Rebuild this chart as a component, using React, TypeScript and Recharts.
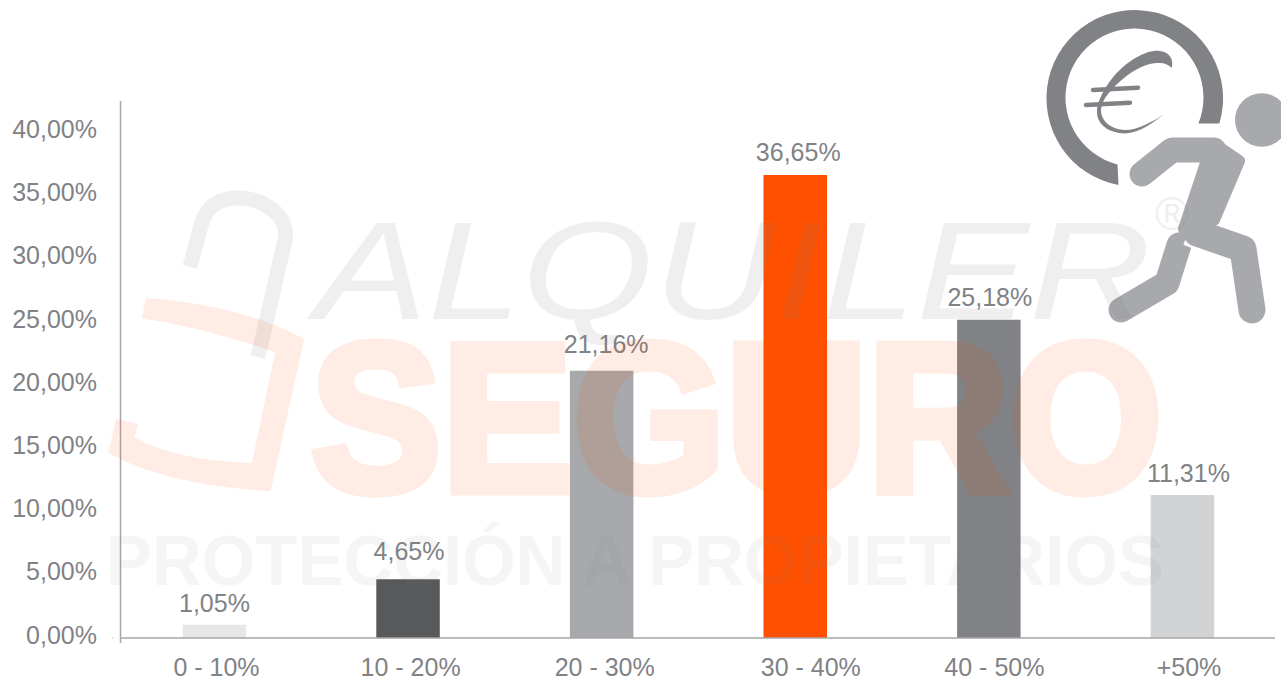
import { Bar, BarChart, Cell, LabelList, XAxis, YAxis } from "recharts";

const categories = ["0 - 10%", "10 - 20%", "20 - 30%", "30 - 40%", "40 - 50%", "+50%"];
const shares = [1.05, 4.65, 21.16, 36.65, 25.18, 11.31];
const barColors = ["#e6e7e8", "#58595b", "#a7a9ac", "#ff5000", "#808285", "#d1d3d4"];
const yTicks = [0, 5, 10, 15, 20, 25, 30, 35, 40];

const data = categories.map((range, i) => ({ range, share: shares[i] }));

const FONT = '"Liberation Sans", Arial, sans-serif';
const TEXT = "#808285";
const AXIS = "#a6a6a6";

// the labels were placed by hand in the original, so they are not quite centred
const tickNudgeX = [2, 2.5, 3, 15.5, 5.5, 6.5];
const labelNudgeX = [0, 1, 4.5, 3, 1, 6];
const labelLift = [13, 19, 18, 14, 14, 13];

function formatPercent(v: number) {
  return `${v.toFixed(2).replace(".", ",")}%`;
}

function YTick({ x, y, payload }: any) {
  return (
    <g>
      {payload.value === 0 && (
        <>
          <line x1={113} x2={x} y1={y} y2={y} stroke={AXIS} strokeWidth={1.5} />
          <line x1={120.5} x2={120.5} y1={y} y2={y + 5} stroke={AXIS} strokeWidth={1.5} />
        </>
      )}
      <text x={97} y={y + 5.5} textAnchor="end" fontSize={25} fontFamily={FONT} fill={TEXT}>
        {formatPercent(payload.value)}
      </text>
    </g>
  );
}

function XTick({ x, payload, index }: any) {
  return (
    <text x={x + tickNudgeX[index]} y={676} textAnchor="middle" fontSize={25} fontFamily={FONT} fill={TEXT}>
      {payload.value}
    </text>
  );
}

function BarLabel({ x, y, width, value, index }: any) {
  return (
    <text
      x={x + width / 2 + labelNudgeX[index]}
      y={y - labelLift[index]}
      textAnchor="middle"
      fontSize={25}
      fontFamily={FONT}
      fill={TEXT}
    >
      {formatPercent(value)}
    </text>
  );
}

function RunnerIcon() {
  return (
    <svg
      width={1281}
      height={677}
      style={{ position: "absolute", left: 0, top: 0, pointerEvents: "none" }}
    >
      <path
        d="M1219.4 123.5 A88.3 88.3 0 1 0 1118.5 185.1 L1117.5 164.4 A69 69 0 1 1 1198.4 123.5 Z"
        fill="#808285"
      />
      <path
        d="M1171.7 68 C1174 60 1170 52 1160 51 C1148 49 1128 60 1114 76 C1104 88 1096 104 1097 112 C1097 124 1108 133 1125 133.5 C1140 133 1154 122 1164.5 114 C1152 122 1138 130 1125 130 C1112 129.5 1101 122 1101 110 C1101 100 1112 88 1124 78 C1136 68 1150 62 1160 63 C1165 63 1169 65 1171.7 68 Z"
        fill="#808285"
      />
      <g fill="none" stroke="#808285" strokeLinecap="round" strokeWidth={4.5}>
        <path d="M1093 90 L1138 87.7" />
        <path d="M1086 105 L1130 102.7" />
      </g>
      <g fill="none" stroke="#a7a9ac">
        <path d="M1121 310 L1167 283 L1179 245" strokeWidth={25} strokeLinecap="round" strokeLinejoin="round" />
        <path d="M1190 228 L1243 249" stroke="#ffffff" strokeWidth={36} />
        <path d="M1197 233 L1243 249 L1252 310" strokeWidth={27} strokeLinecap="round" strokeLinejoin="round" />
        <path d="M1142 174 L1172 150 L1214 150" strokeWidth={25} strokeLinecap="round" strokeLinejoin="round" />
        <polygon
          points="1214,144 1239,161 1214,220 1184,229 1208,157"
          fill="#a7a9ac"
          strokeWidth={12}
          strokeLinejoin="round"
        />
      </g>
      <circle cx={1261.7} cy={120} r={26.7} fill="#a7a9ac" />
    </svg>
  );
}

// company watermark laid over the whole chart, the bars show through it
function Watermark() {
  return (
    <svg
      width={1281}
      height={677}
      style={{ position: "absolute", left: 0, top: 0, pointerEvents: "none" }}
      fontFamily={FONT}
    >
      <g opacity={0.12} fill="#7f7f7f">
        <path
          d="M190 267 L201 225 C207 205 220 198 238 198 C262 198 290 215 285 240 L258 357"
          fill="none"
          stroke="#7f7f7f"
          strokeWidth={15}
        />
        <text
          x={315}
          y={319}
          fontSize={139.5}
          fontStyle="italic"
          textLength={836}
          lengthAdjust="spacingAndGlyphs"
        >
          ALQUILER
        </text>
        <text x={1155} y={230} fontSize={46}>
          ®
        </text>
      </g>
      <g opacity={0.1} fill="#ff5000">
        <path d="M146 298 Q241 305 304 339 L270.7 491 Q164 485 108.3 452.7 L116 418.7 L138.3 424 L134.3 437.3 Q174 460 251.7 463.3 L275.3 352.3 Q205 328 141.7 318.3 Z" />
        <text
          x={310.5}
          y={490.5}
          fontSize={211}
          fontWeight="bold"
          stroke="#ff5000"
          strokeWidth={9}
          textLength={852}
          lengthAdjust="spacingAndGlyphs"
        >
          SEGURO
        </text>
      </g>
      <text
        x={106}
        y={585}
        fontSize={70}
        fontWeight="bold"
        fill="#7f7f7f"
        opacity={0.07}
        textLength={1058}
        lengthAdjust="spacingAndGlyphs"
      >
        PROTECCIÓN A PROPIETARIOS
      </text>
    </svg>
  );
}

export default function App() {
  return (
    <div style={{ position: "absolute", left: 0, top: 0, width: 1281, height: 677, overflow: "hidden" }}>
      <BarChart
        width={1281}
        height={677}
        data={data}
        margin={{ top: 101, right: 6, bottom: 0, left: 0 }}
      >
        <XAxis
          dataKey="range"
          height={39}
          padding={{ left: -2.8, right: -4.3 }}
          axisLine={{ stroke: AXIS, strokeWidth: 1.5 }}
          tickLine={false}
          tick={<XTick />}
          interval={0}
        />
        <YAxis
          width={120.5}
          domain={[0, 42.5]}
          ticks={yTicks}
          axisLine={{ stroke: AXIS, strokeWidth: 1.5 }}
          tickLine={false}
          tick={<YTick />}
          interval={0}
        />
        <Bar dataKey="share" barSize={63.5} isAnimationActive={false}>
          {data.map((d, i) => (
            <Cell key={d.range} fill={barColors[i]} />
          ))}
          <LabelList dataKey="share" content={<BarLabel />} />
        </Bar>
      </BarChart>
      <RunnerIcon />
      <Watermark />
    </div>
  );
}
